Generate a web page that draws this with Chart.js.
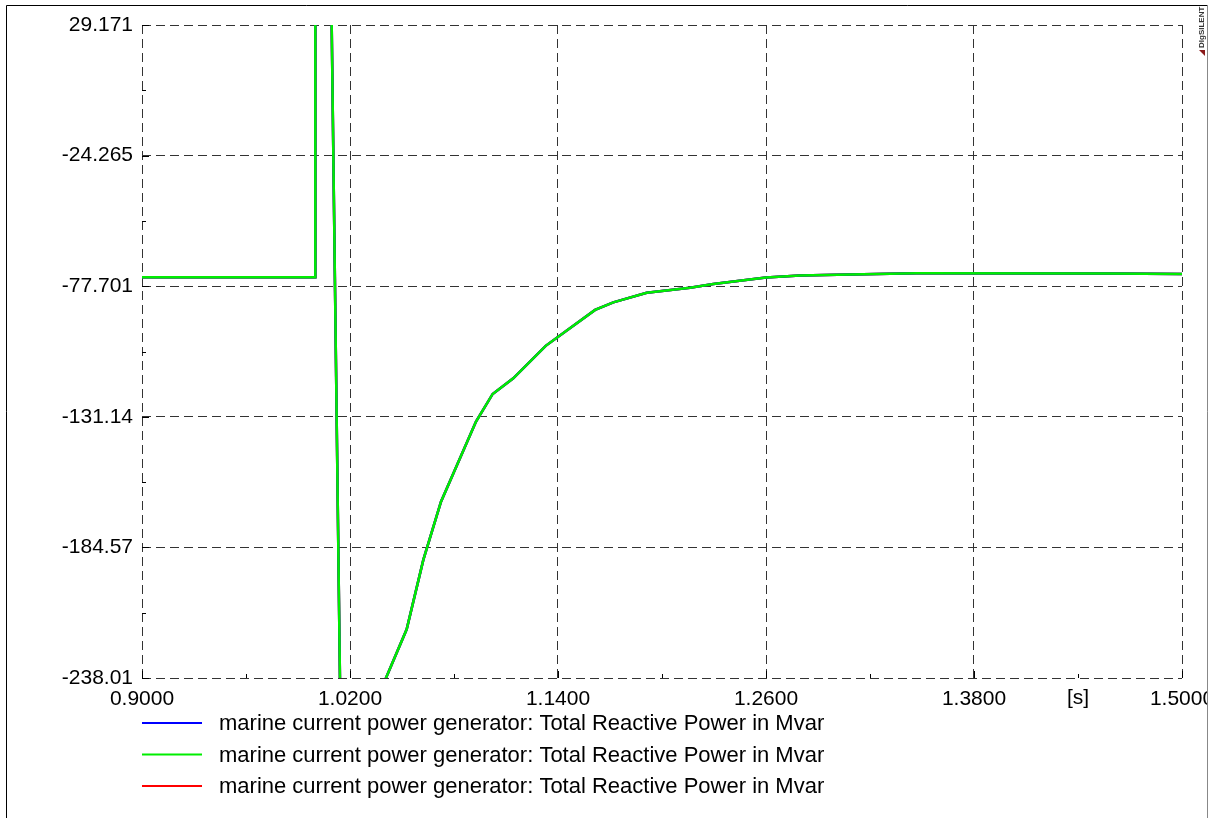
<!DOCTYPE html>
<html>
	<head>
		<meta charset="utf-8">
		<script src="https://cdn.jsdelivr.net/npm/chart.js@4"></script>
		<style>
			body { margin: 0; background: #fff; }
			canvas { display: block; }
		</style>
	</head>

	<body>
		<canvas id="myChart" width="1221" height="818"></canvas>

		<script>
			// simulation output: time [s] and reactive power [Mvar]
			const timeS = [
				0.9, 1.0, 1.0, 1.0046, 1.0171, 1.027, 1.035, 1.0527, 1.0623, 1.0725,
				1.0927, 1.1023, 1.1142, 1.1329, 1.1614, 1.1719, 1.1912, 1.2162, 1.2296,
				1.26, 1.2796, 1.3085, 1.3469, 1.4566, 1.5
			];
			const qMvar = [
				-74.06, -74.06, 320, 300, -400, -300, -247.6, -218.1, -189.7, -165.9,
				-133.1, -121.8, -115.4, -102.1, -87.4, -84.3, -80.4, -78.3, -76.8,
				-74.1, -73.3, -72.9, -72.4, -72.5, -72.7
			];

			const seriesLabels = [
				'marine current power generator: Total Reactive Power in Mvar',
				'marine current power generator: Total Reactive Power in Mvar',
				'marine current power generator: Total Reactive Power in Mvar'
			];
			const seriesColors = ['#0000ff', '#00ee00', '#ff0000'];

			const xTicks = [0.9, 1.02, 1.14, 1.26, 1.38, 1.5];
			const xTickLabels = ['0.9000', '1.0200', '1.1400', '1.2600', '1.3800', '1.5000'];
			const yTicks = [29.171, -24.265, -77.701, -131.14, -184.57, -238.01];
			const yTickLabels = ['29.171', '-24.265', '-77.701', '-131.14', '-184.57', '-238.01'];

			const points = timeS.map((t, i) => ({ x: t, y: qMvar[i] }));
			const FONT = 'Liberation Sans, Arial, sans-serif';

			const datasets = seriesLabels.map((label, i) => ({
				label,
				data: points,
				borderColor: seriesColors[i],
				backgroundColor: seriesColors[i],
				borderWidth: 2.5,
				pointRadius: 0,
				tension: 0,
				order: i === 1 ? 0 : 1   // green one on top
			}));

			const mids = arr => arr.slice(1).map((v, i) => (v + arr[i]) / 2);

			const extras = {
				id: 'extras',
				beforeDraw(chart) {
					const c = chart.ctx;
					c.save();
					c.fillStyle = '#fff';
					c.fillRect(0, 0, chart.width, chart.height);
					c.restore();
				},
				afterDraw(chart) {
					const c = chart.ctx;
					const xs = chart.scales.x, ys = chart.scales.y;
					const a = chart.chartArea;
					c.save();

					// inward tick marks
					c.strokeStyle = '#000';
					c.lineWidth = 1;
					c.beginPath();
					xTicks.forEach(v => { const p = Math.round(xs.getPixelForValue(v)) + 0.5; c.moveTo(p, a.bottom); c.lineTo(p, a.bottom - 7); });
					mids(xTicks).forEach(v => { const p = Math.round(xs.getPixelForValue(v)) + 0.5; c.moveTo(p, a.bottom); c.lineTo(p, a.bottom - 4); });
					yTicks.forEach(v => { const p = Math.round(ys.getPixelForValue(v)) + 0.5; c.moveTo(a.left, p); c.lineTo(a.left + 7, p); });
					mids(yTicks).forEach(v => { const p = Math.round(ys.getPixelForValue(v)) + 0.5; c.moveTo(a.left, p); c.lineTo(a.left + 4, p); });
					c.stroke();

					// unit label
					c.fillStyle = '#000';
					c.font = '21px ' + FONT;
					c.textAlign = 'center';
					c.textBaseline = 'middle';
					c.fillText('[s]', xs.getPixelForValue(1.44), a.bottom + 20);

					// legend
					c.font = '22px ' + FONT;
					c.textAlign = 'left';
					chart.data.datasets.forEach((ds, i) => {
						const y = a.bottom + 45 + i * 31.5;
						c.strokeStyle = ds.borderColor;
						c.lineWidth = 2;
						c.beginPath();
						c.moveTo(a.left, y);
						c.lineTo(a.left + 60, y);
						c.stroke();
						c.fillText(ds.label, a.left + 77, y + 1);
					});

					// clip strip on the right + frame
					c.fillStyle = '#fff';
					c.fillRect(1208, 0, chart.width - 1208, chart.height);
					c.lineWidth = 1;
					c.strokeStyle = '#000';
					c.beginPath();
					c.moveTo(6.5, chart.height);
					c.lineTo(6.5, 5.5);
					c.lineTo(1207.5, 5.5);
					c.stroke();
					c.strokeStyle = '#888';
					c.beginPath();
					c.moveTo(1207.5, 5.5);
					c.lineTo(1207.5, chart.height);
					c.stroke();

					// program tag
					c.translate(1202, 48);
					c.rotate(-Math.PI / 2);
					c.fillStyle = '#333';
					c.font = 'bold 8px ' + FONT;
					c.textAlign = 'left';
					c.fillText('DIgSILENT', 0, 0);
					c.fillStyle = '#8b1a1a';
					c.beginPath();
					c.moveTo(-2, -3);
					c.lineTo(-8, 3);
					c.lineTo(-2, 3);
					c.closePath();
					c.fill();

					c.restore();
				}
			};

			const options = {
				animation: false,
				responsive: false,
				layout: {
					padding: { left: 0, top: 25, right: 39, bottom: 0 }
				},
				scales: {
					x: {
						type: 'linear',
						min: 0.9,
						max: 1.5,
						afterBuildTicks: s => { s.ticks = xTicks.map(v => ({ value: v })); },
						afterFit: s => { s.height = 140; s.paddingLeft = 0; s.paddingRight = 0; },
						ticks: {
							autoSkip: false,
							maxRotation: 0,
							padding: 9,
							color: '#000',
							font: { family: FONT, size: 21 },
							callback: (v, i) => xTickLabels[i]
						},
						grid: { color: '#333', lineWidth: 1, drawTicks: false },
						border: { display: false, dash: [9, 5] }
					},
					y: {
						min: -238.01,
						max: 29.171,
						afterBuildTicks: s => { s.ticks = yTicks.map(v => ({ value: v })); },
						afterFit: s => { s.width = 142; s.paddingTop = 0; s.paddingBottom = 0; },
						ticks: {
							autoSkip: false,
							padding: 9,
							color: '#000',
							font: { family: FONT, size: 21 },
							callback: (v, i) => yTickLabels[i]
						},
						grid: { color: '#333', lineWidth: 1, drawTicks: false },
						border: { display: false, dash: [9, 5] }
					}
				},
				plugins: {
					legend: { display: false },
					tooltip: { enabled: false }
				}
			};

			var myChart = new Chart(document.getElementById('myChart'), {
				type: 'line',
				data: { datasets },
				options,
				plugins: [extras]
			});
		</script>
	</body>
</html>
